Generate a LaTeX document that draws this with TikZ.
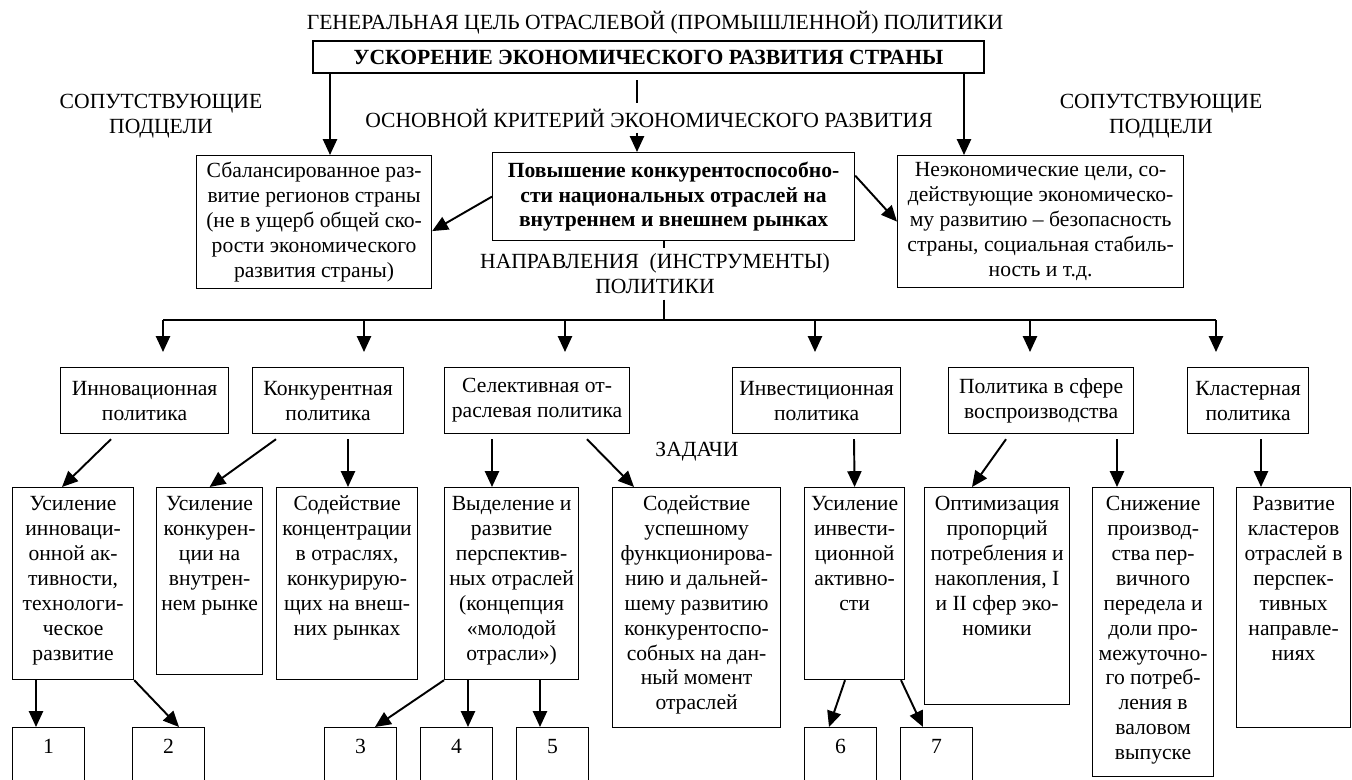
\documentclass[tikz,border=0pt]{standalone}
\usepackage{fontspec}
\setmainfont{Liberation Serif}
\usetikzlibrary{arrows.meta,calc}

\newcommand{\cellbox}[4][3pt]{\parbox[c][#3][t]{#2}{\centering\vspace*{#1}\strut#4}}

\begin{document}
\begin{tikzpicture}[x=0.02cm,y=-0.02cm,
  txt/.style={font=\fontsize{12.3}{14.2}\selectfont,align=center},
  box/.style={txt,draw,line width=0.7pt,inner sep=0pt,anchor=north west},
  lab/.style={txt,inner sep=3pt},
  ln/.style={line width=1.1pt},
  arr/.style={ln,-{Triangle[length=9pt,width=8pt]}}]
\useasboundingbox (0,0) rectangle (1352,780);
\clip (0,0) rectangle (1352,780);

% goal
\node[lab] (gen) at (655,23) {ГЕНЕРАЛЬНАЯ ЦЕЛЬ ОТРАСЛЕВОЙ (ПРОМЫШЛЕННОЙ) ПОЛИТИКИ};
\node[box,line width=1.2pt,minimum width=13.42cm,minimum height=0.64cm,
  font=\fontsize{12.3}{14.2}\selectfont\bfseries] (M) at (312,40) {УСКОРЕНИЕ ЭКОНОМИЧЕСКОГО РАЗВИТИЯ СТРАНЫ};
\node[lab] (s1) at (161,116) {СОПУТСТВУЮЩИЕ\\ПОДЦЕЛИ};
\node[lab] (s2) at (1161,116) {СОПУТСТВУЮЩИЕ\\ПОДЦЕЛИ};
\node[lab] (K) at (649,118) {ОСНОВНОЙ КРИТЕРИЙ ЭКОНОМИЧЕСКОГО РАЗВИТИЯ};

% subgoals
\node[box,minimum width=4.70cm,minimum height=2.66cm] (L) at (196,155)
  {Сбалансированное раз-\\витие регионов страны\\(не в ущерб общей ско-\\рости экономического\\развития страны)};
\node[box,minimum width=7.24cm,minimum height=1.76cm,
  font=\fontsize{12.3}{14.2}\selectfont\bfseries] (C) at (492,152)
  {Повышение конкурентоспособно-\\сти национальных отраслей на\\внутреннем и внешнем рынках};
\node[box,minimum width=5.72cm,minimum height=2.64cm] (R) at (897,155)
  {Неэкономические цели, со-\\действующие экономическо-\\му развитию – безопасность\\страны, социальная стабиль-\\ность и т.д.};
\node[lab] (NP) at (655,274) {НАПРАВЛЕНИЯ \ (ИНСТРУМЕНТЫ)\\ПОЛИТИКИ};

\coordinate (lx) at (330,0);
\coordinate (rx) at (964,0);
\coordinate (cx) at (637,0);
\coordinate (nx) at (664,0);
\draw[arr] (M.south -| lx) -- (L.north -| lx);
\draw[arr] (M.south -| rx) -- (R.north -| rx);
\draw[ln,shorten <=0.12cm] (M.south -| cx) -- (K.north -| cx);
\draw[arr] (K.south -| cx) -- (C.north -| cx);
\draw[arr] (C.west) -- ($(L.east)+(0,9)$);
\draw[arr] ($(C.east)+(0,-21)$) -- (R.west);
\draw[ln] (C.south -| nx) -- (NP.north -| nx);

% policies
\node[box,minimum width=3.36cm,minimum height=1.32cm] (P1) at (60,367) {Инновационная\\политика};
\node[box,minimum width=3.02cm,minimum height=1.32cm] (P2) at (252,367) {Конкурентная\\политика};
\node[box,minimum width=3.70cm,minimum height=1.32cm] (P3) at (444,367) {Селективная от-\\раслевая политика};
\node[box,minimum width=3.36cm,minimum height=1.32cm] (P4) at (732,367) {Инвестиционная\\политика};
\node[box,minimum width=3.70cm,minimum height=1.32cm] (P5) at (948,367) {Политика в сфере\\воспроизводства};
\node[box,minimum width=2.42cm,minimum height=1.32cm] (P6) at (1187,367) {Кластерная\\политика};

\coordinate (d1) at (163,320);
\coordinate (d2) at (364,320);
\coordinate (d3) at (565,320);
\coordinate (d4) at (815,320);
\coordinate (d5) at (1030,320);
\coordinate (d6) at (1216,320);
\draw[ln] (NP.south -| nx) -- (nx |- d1);
\draw[ln] (d1) -- (d6);
\draw[arr,shorten >=0.3cm] (d1) -- (d1 |- P1.north);
\draw[arr,shorten >=0.3cm] (d2) -- (d2 |- P2.north);
\draw[arr,shorten >=0.3cm] (d3) -- (d3 |- P3.north);
\draw[arr,shorten >=0.3cm] (d4) -- (d4 |- P4.north);
\draw[arr,shorten >=0.3cm] (d5) -- (d5 |- P5.north);
\draw[arr,shorten >=0.3cm] (d6) -- (d6 |- P6.north);

\node[lab] (zad) at (697,452) {ЗАДАЧИ};

% tasks
\node[box] (T1) at (12,487) {\cellbox{2.42cm}{3.84cm}{Усиление\\инноваци-\\онной ак-\\тивности,\\технологи-\\ческое\\развитие}};
\node[box] (T2) at (156,487) {\cellbox{2.12cm}{3.74cm}{Усиление\\конкурен-\\ции на\\внутрен-\\нем рынке}};
\node[box] (T3) at (276,487) {\cellbox{2.82cm}{3.84cm}{Содействие\\концентрации\\в отраслях,\\конкурирую-\\щих на внеш-\\них рынках}};
\node[box] (T4) at (444,487) {\cellbox{2.68cm}{3.84cm}{Выделение и\\развитие\\перспектив-\\ных отраслей\\(концепция\\«молодой\\отрасли»)}};
\node[box] (T5) at (612,487) {\cellbox{3.36cm}{4.80cm}{Содействие\\успешному\\функционирова-\\нию и дальней-\\шему развитию\\конкурентоспо-\\собных на дан-\\ный момент\\отраслей}};
\node[box] (T6) at (804,487) {\cellbox{2.00cm}{3.84cm}{Усиление\\инвести-\\ционной\\активно-\\сти}};
\node[box] (T7) at (924,487) {\cellbox{2.90cm}{4.34cm}{Оптимизация\\пропорций\\потребления и\\накопления, I\\и II сфер эко-\\номики}};
\node[box] (T8) at (1092,487) {\cellbox{2.42cm}{5.78cm}{Снижение\\производ-\\ства пер-\\вичного\\передела и\\доли про-\\межуточно-\\го потреб-\\ления в\\валовом\\выпуске}};
\node[box] (T9) at (1236,487) {\cellbox{2.28cm}{4.80cm}{Развитие\\кластеров\\отраслей в\\перспек-\\тивных\\направле-\\ниях}};

\draw[arr] ($(P1.south west)+(51,5)$) -- ($(T1.north west)+(50,0)$);
\draw[arr] ($(P2.south west)+(24,5)$) -- (T2.north);
\draw[arr] ($(P2.south west)+(96,5)$) -- ($(T3.north west)+(72,0)$);
\draw[arr] ($(P3.south west)+(48,5)$) -- ($(T4.north west)+(48,0)$);
\draw[arr] ($(P3.south west)+(143,5)$) -- ($(T5.north west)+(22,0)$);
\draw[arr] ($(P4.south west)+(122,5)$) -- (T6.north);
\draw[arr] ($(P5.south west)+(58,5)$) -- ($(T7.north west)+(48,0)$);
\draw[arr] ($(P5.south west)+(169,5)$) -- ($(T8.north west)+(25,0)$);
\draw[arr] ($(P6.south west)+(74,5)$) -- ($(T9.north west)+(25,0)$);

% numbered results
\node[box] (N1) at (12,727) {\cellbox[5pt]{1.44cm}{1.2cm}{1}};
\node[box] (N2) at (132,727) {\cellbox[5pt]{1.44cm}{1.2cm}{2}};
\node[box] (N3) at (324,727) {\cellbox[5pt]{1.44cm}{1.2cm}{3}};
\node[box] (N4) at (420,727) {\cellbox[5pt]{1.44cm}{1.2cm}{4}};
\node[box] (N5) at (516,727) {\cellbox[5pt]{1.44cm}{1.2cm}{5}};
\node[box] (N6) at (804,727) {\cellbox[5pt]{1.44cm}{1.2cm}{6}};
\node[box] (N7) at (900,727) {\cellbox[5pt]{1.44cm}{1.2cm}{7}};

\draw[arr] ($(T1.south west)+(24,0)$) -- ($(N1.north west)+(24,0)$);
\draw[arr] (T1.south east) -- ($(N2.north west)+(47,0)$);
\draw[arr] (T4.south west) -- ($(N3.north west)+(51,0)$);
\draw[arr] ($(T4.south west)+(24,0)$) -- ($(N4.north west)+(48,0)$);
\draw[arr] ($(T4.south west)+(96,0)$) -- ($(N5.north west)+(24,0)$);
\draw[arr] ($(T6.south west)+(41,0)$) -- ($(N6.north west)+(25,0)$);
\draw[arr] ($(T6.south west)+(97,0)$) -- ($(N7.north west)+(23,0)$);
\end{tikzpicture}
\end{document}
